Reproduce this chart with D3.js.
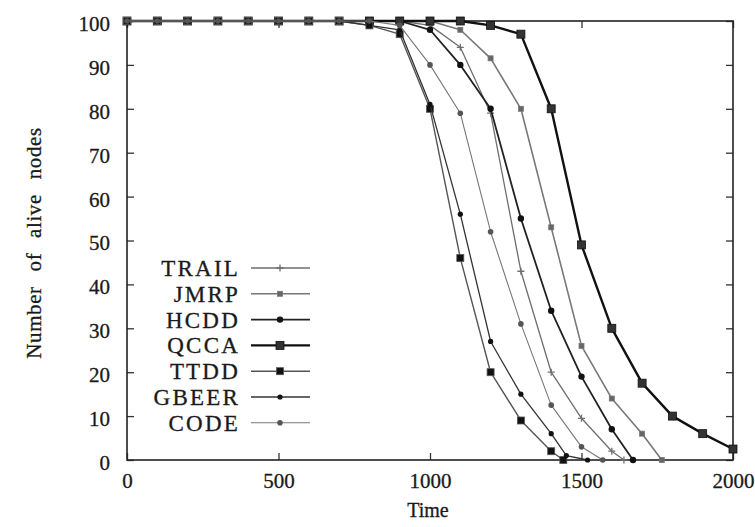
<!DOCTYPE html>
<html>
<head>
<meta charset="utf-8">
<script src="https://cdn.jsdelivr.net/npm/d3@7"></script>
<style>
  html, body { margin: 0; padding: 0; background: #fff; }
  svg { display: block; }
  text { font-family: "Liberation Serif", "DejaVu Serif", serif; fill: #1a1a1a; stroke: #1a1a1a; stroke-width: 0.3px; }
</style>
</head>
<body>
<div id="chart"></div>
<script>
(function () {
  "use strict";

  // ── Datos (tiempo, nodos vivos) ────────────────────────
  const TRAIL = [[0,100],[100,100],[200,100],[300,100],[400,100],[500,100],[600,100],[700,100],[800,100],[900,100],[1000,99],[1100,94],[1200,79],[1300,43],[1400,20],[1500,9.5],[1600,2],[1640,0]];
  const JMRP = [[0,100],[100,100],[200,100],[300,100],[400,100],[500,100],[600,100],[700,100],[800,100],[900,100],[1000,100],[1100,98],[1200,91.5],[1300,80],[1400,53],[1500,26],[1600,14],[1700,6],[1765,0]];
  const HCDD = [[0,100],[100,100],[200,100],[300,100],[400,100],[500,100],[600,100],[700,100],[800,100],[900,100],[1000,98],[1100,90],[1200,80],[1300,55],[1400,34],[1500,19],[1600,7],[1670,0]];
  const QCCA = [[0,100],[100,100],[200,100],[300,100],[400,100],[500,100],[600,100],[700,100],[800,100],[900,100],[1000,100],[1100,100],[1200,99],[1300,97],[1400,80],[1500,49],[1600,30],[1700,17.5],[1800,10],[1900,6],[2000,2.5]];
  const TTDD = [[0,100],[100,100],[200,100],[300,100],[400,100],[500,100],[600,100],[700,100],[800,99],[900,97],[1000,80],[1100,46],[1200,20],[1300,9],[1400,2],[1440,0]];
  const GBEER = [[0,100],[100,100],[200,100],[300,100],[400,100],[500,100],[600,100],[700,100],[800,99],[900,98],[1000,81],[1100,56],[1200,27],[1300,15],[1400,6],[1450,1],[1520,0]];
  const CODE = [[0,100],[100,100],[200,100],[300,100],[400,100],[500,100],[600,100],[700,100],[800,100],[900,99],[1000,90],[1100,79],[1200,52],[1300,31],[1400,12.5],[1500,3],[1570,0]];

  const SERIES_NAMES = ["TRAIL", "JMRP", "HCDD", "QCCA", "TTDD", "GBEER", "CODE"];
  const SERIES_DATA = [TRAIL, JMRP, HCDD, QCCA, TTDD, GBEER, CODE];

  const X_TICKS = [0, 500, 1000, 1500, 2000];
  const Y_TICKS = [0, 10, 20, 30, 40, 50, 60, 70, 80, 90, 100];

  // Estilos por serie (escala de grises como en el original)
  const STYLE = {
    TRAIL: { stroke: "#6e6e6e", width: 1.3, marker: "plus", size: 7 },
    JMRP:  { stroke: "#777", width: 1.6, marker: "square", size: 5, fill: "#666" },
    HCDD:  { stroke: "#222", width: 1.8, marker: "circle", size: 3.2, fill: "#111" },
    QCCA:  { stroke: "#111", width: 2.4, marker: "square", size: 8, fill: "#333" },
    TTDD:  { stroke: "#555", width: 1.4, marker: "square", size: 7, fill: "#111" },
    GBEER: { stroke: "#333", width: 1.3, marker: "circle", size: 2.6, fill: "#111" },
    CODE:  { stroke: "#777", width: 1.1, marker: "circle", size: 2.8, fill: "#555" }
  };

  // ── Setup SVG ──────────────────────────────────────────
  const width = 755;
  const height = 527;
  const MARGIN = { top: 21, right: 22, bottom: 67, left: 127 };
  const innerWidth = width - MARGIN.left - MARGIN.right;
  const innerHeight = height - MARGIN.top - MARGIN.bottom;

  const svg = d3.select("#chart").append("svg").attr("width", width).attr("height", height);
  const g = svg.append("g").attr("transform", `translate(${MARGIN.left},${MARGIN.top})`);

  const x = d3.scaleLinear().domain([0, 2000]).range([0, innerWidth]);
  const y = d3.scaleLinear().domain([0, 100]).range([innerHeight, 0]);
  const fmt = d3.format("d");

  // Ejes (ticks hacia dentro, espejados arriba y a la derecha)
  const gX = g.append("g").attr("transform", `translate(0,${innerHeight})`)
    .call(d3.axisBottom(x).tickValues(X_TICKS).tickFormat(fmt).tickSizeInner(-7).tickSizeOuter(0).tickPadding(13));
  const gXTop = g.append("g")
    .call(d3.axisTop(x).tickValues(X_TICKS).tickSizeInner(-7).tickSizeOuter(0).tickFormat(""));
  const gY = g.append("g")
    .call(d3.axisLeft(y).tickValues(Y_TICKS).tickFormat(fmt).tickSizeInner(-7).tickSizeOuter(0).tickPadding(17));
  const gYRight = g.append("g").attr("transform", `translate(${innerWidth},0)`)
    .call(d3.axisRight(y).tickValues(Y_TICKS).tickSizeInner(-7).tickSizeOuter(0).tickFormat(""));

  [gX, gXTop, gY, gYRight].forEach((ax) => {
    ax.select(".domain").remove();
    ax.selectAll(".tick line").attr("stroke", "#333").attr("stroke-width", 1.3);
    ax.selectAll(".tick text").attr("font-size", "21px").attr("fill", "#1a1a1a")
      .attr("font-family", "'Liberation Serif', serif");
  });
  gY.selectAll(".tick text").attr("dy", "0.45em");

  // Marco
  g.append("rect").attr("x", 0).attr("y", 0).attr("width", innerWidth).attr("height", innerHeight)
    .attr("fill", "none").attr("stroke", "#222").attr("stroke-width", 1.6);

  // Títulos de ejes
  svg.append("text").attr("x", MARGIN.left + innerWidth / 2 - 2).attr("y", 517)
    .attr("text-anchor", "middle").attr("font-size", "20px").text("Time");
  svg.append("text").attr("transform", `translate(41,${MARGIN.top + 222}) rotate(-90)`)
    .attr("text-anchor", "middle").attr("font-size", "21px").attr("word-spacing", "9px")
    .attr("letter-spacing", "0.6px")
    .text("Number of alive nodes");

  // ── Marcadores ────────────────────────────────────────
  function drawMarker(sel, st) {
    if (st.marker === "plus") {
      sel.append("path")
        .attr("d", `M${-st.size / 2},0H${st.size / 2}M0,${-st.size / 2}V${st.size / 2}`)
        .attr("stroke", st.stroke).attr("stroke-width", 1.3).attr("fill", "none");
    } else if (st.marker === "square") {
      sel.append("rect")
        .attr("x", -st.size / 2).attr("y", -st.size / 2)
        .attr("width", st.size).attr("height", st.size)
        .attr("fill", st.fill).attr("stroke", st.stroke).attr("stroke-width", 0.8);
    } else {
      sel.append("circle").attr("r", st.size).attr("fill", st.fill);
    }
  }

  const line = d3.line().x((d) => x(d[0])).y((d) => y(d[1]));

  const gLines = g.append("g").attr("class", "lines");
  SERIES_NAMES.forEach((name, i) => {
    const st = STYLE[name];
    const data = SERIES_DATA[i];
    gLines.append("path")
      .attr("d", line(data))
      .attr("fill", "none")
      .attr("stroke", st.stroke)
      .attr("stroke-width", st.width)
      .attr("stroke-linejoin", "round");

    gLines.selectAll(`.m-${name}`)
      .data(data)
      .join("g")
      .attr("class", `m-${name}`)
      .attr("transform", (d) => `translate(${x(d[0])},${y(d[1])})`)
      .each(function () { drawMarker(d3.select(this), st); });
  });

  // ── Leyenda ───────────────────────────────────────────
  const legend = svg.append("g").attr("transform", "translate(0,268)");
  SERIES_NAMES.forEach((name, i) => {
    const st = STYLE[name];
    const row = legend.append("g").attr("transform", `translate(0,${i * 25.8})`);
    row.append("text").attr("x", 240).attr("y", 8).attr("text-anchor", "end")
      .attr("font-size", "23px").attr("letter-spacing", "2.2px").text(name);
    row.append("line").attr("x1", 251).attr("x2", 310).attr("y1", 0).attr("y2", 0)
      .attr("stroke", st.stroke).attr("stroke-width", st.width);
    drawMarker(row.append("g").attr("transform", "translate(280,0)"), st);
  });
})();
</script>
</body>
</html>
